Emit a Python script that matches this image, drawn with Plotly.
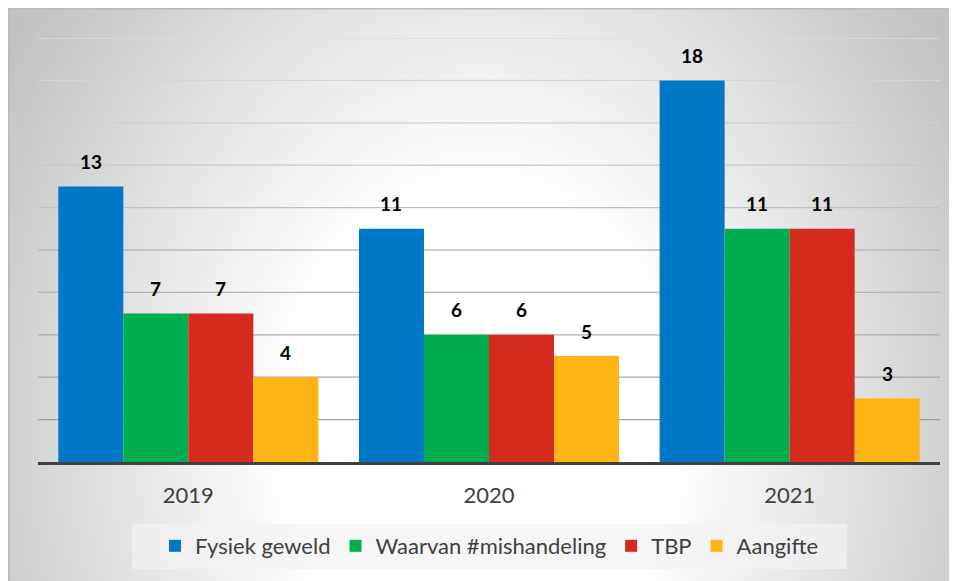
import base64
import plotly.graph_objects as go

years = ["2019", "2020", "2021"]
series_names = ["Fysiek geweld", "Waarvan #mishandeling", "TBP", "Aangifte"]
fysiek_geweld = [13, 11, 18]
mishandeling = [7, 6, 11]
tbp = [7, 6, 11]
aangifte = [4, 5, 3]
values = [fysiek_geweld, mishandeling, tbp, aangifte]
colors = ["#0078C6", "#00AE4F", "#D52B1E", "#FDB515"]
grid_values = [2, 4, 6, 8, 10, 12, 14, 16, 18, 20]

# figure is placed by the page at (8, 8)
W, H = 946, 581
ML, MR, MT, MB = 30, 14, 30, 127
PW, PH = W - ML - MR, H - MT - MB
BARGAP = 0.135

svg = f'''<svg xmlns="http://www.w3.org/2000/svg" width="{W}" height="{H}" viewBox="0 0 {W} {H}" preserveAspectRatio="none">
<defs>
<radialGradient id="g" gradientUnits="userSpaceOnUse" cx="0" cy="0" r="1" gradientTransform="translate(472 422) scale(560 700)">
<stop offset="0" stop-color="#ffffff"/>
<stop offset="0.35" stop-color="#ffffff"/>
<stop offset="1" stop-color="#c2c2c2"/>
</radialGradient>
</defs>
<rect x="0.75" y="0.75" width="{W - 1.5}" height="{H + 20}" fill="url(#g)" stroke="#bababa" stroke-width="1.5"/>
</svg>'''
src = "data:image/svg+xml;base64," + base64.b64encode(svg.encode()).decode()

fig = go.Figure()
for name, vals, col in zip(series_names, values, colors):
    fig.add_trace(go.Bar(name=name, x=years, y=vals, marker=dict(color=col, line=dict(width=0))))

bw = (1 - BARGAP) / len(series_names)
annotations = []
for j, vals in enumerate(values):
    for i, v in enumerate(vals):
        annotations.append(dict(
            x=i + (j - (len(series_names) - 1) / 2) * bw, y=v, xref="x", yref="y",
            text=str(v), showarrow=False, yanchor="middle", yshift=25,
            font=dict(family="Lato", size=19, color="#000000", weight="bold"),
        ))


def mix(t):
    a, b = 0xA0, 0xDC
    c = round(a + (b - a) * t)
    return f"rgb({c},{c},{c})"


shapes = [dict(type="rect", xref="paper", yref="paper",
               x0=(124 - ML) / PW, x1=(839 - ML) / PW,
               y0=(454 - 561) / PH, y1=(454 - 516) / PH,
               fillcolor="rgba(242,242,242,0.7)", line=dict(width=0), layer="below")]
gmin, gmax = min(grid_values), max(grid_values)
for g in grid_values:
    shapes.append(dict(type="line", xref="paper", yref="y", x0=0, x1=1, y0=g, y1=g,
                       line=dict(color=mix((g - gmin) / (gmax - gmin)), width=1.3), layer="below"))

fig.update_layout(
    width=W, height=H,
    margin=dict(l=ML, r=MR, t=MT, b=MB, pad=0),
    paper_bgcolor="#ffffff", plot_bgcolor="rgba(0,0,0,0)",
    barmode="group", bargap=BARGAP, bargroupgap=0,
    font=dict(family="Lato", size=22, color="#404040"),
    xaxis=dict(showgrid=False, showline=True, linecolor="#404040", linewidth=3,
               ticks="", tickfont=dict(size=22, color="#404040"), ticklabelstandoff=12),
    yaxis=dict(range=[0, 20], showgrid=False, showticklabels=False,
               zeroline=False, showline=False),
    showlegend=True,
    legend=dict(orientation="h", x=(481.5 - ML) / PW, xanchor="center",
                y=(454 - 538) / PH, yanchor="middle", bgcolor="rgba(0,0,0,0)",
                font=dict(size=22, color="#404040"), traceorder="normal"),
    images=[dict(source=src, xref="paper", yref="paper", x=-ML / PW, y=1 + MT / PH,
                 sizex=W / PW, sizey=H / PH, xanchor="left", yanchor="top",
                 sizing="stretch", layer="below")],
    shapes=shapes,
    annotations=annotations,
)
fig.write_html("out.html")
